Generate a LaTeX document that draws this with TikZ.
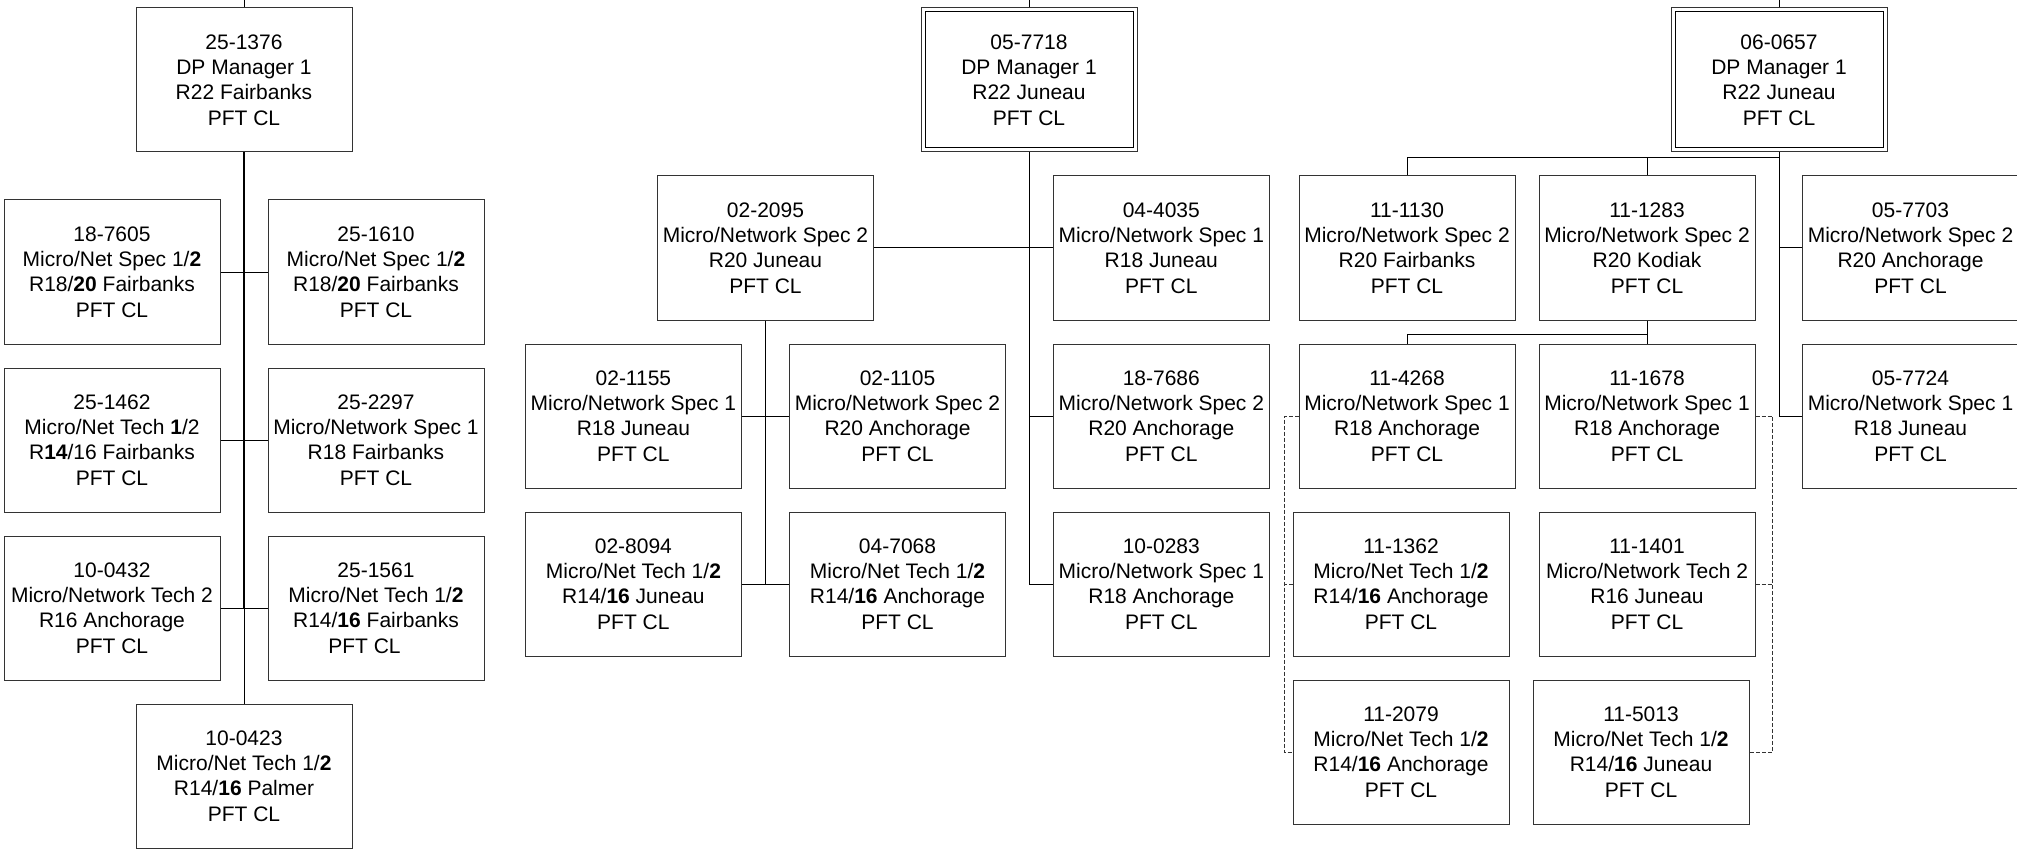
\documentclass[tikz,border=0pt]{standalone}
\usepackage{fontspec}
\setmainfont{Liberation Sans}
\begin{document}
\begin{tikzpicture}[x=0.5pt,y=-0.5pt,
  box/.style={draw=black!80, line width=0.5pt, minimum width=108pt, minimum height=72pt,
    inner sep=0pt, align=center, font=\fontsize{10.5}{12.65}\selectfont},
  conn/.style={draw=black, line width=0.5pt},
  thickconn/.style={draw=black, line width=1pt},
  dashline/.style={draw=black!80, line width=0.5pt, dash pattern=on 2pt off 1pt},
  innerframe/.style={draw=black, line width=0.5pt}]
\useasboundingbox (0,0) rectangle (2017,850);

% ---------------- left group ----------------
\node[box] (a0) at (244,80) {25-1376\\DP Manager 1\\R22 Fairbanks\\PFT CL};
\node[box] (a1) at (112,272) {18-7605\\Micro/Net Spec 1/\textbf{2}\\R18/\textbf{20} Fairbanks\\PFT CL};
\node[box] (a2) at (376,272) {25-1610\\Micro/Net Spec 1/\textbf{2}\\R18/\textbf{20} Fairbanks\\PFT CL};
\node[box] (a3) at (112,440) {25-1462\\Micro/Net Tech \textbf{1}/2\\R\textbf{14}/16 Fairbanks\\PFT CL};
\node[box] (a4) at (376,440) {25-2297\\Micro/Network Spec 1\\R18 Fairbanks\\PFT CL};
\node[box] (a5) at (112,608) {10-0432\\Micro/Network Tech 2\\R16 Anchorage\\PFT CL};
\node[box] (a6) at (376,608) {25-1561\\Micro/Net Tech 1/\textbf{2}\\R14/\textbf{16} Fairbanks\\PFT CL\kern11.5pt};
\node[box] (a7) at (244,776) {10-0423\\Micro/Net Tech 1/\textbf{2}\\R14/\textbf{16} Palmer\\PFT CL};

\coordinate (ta) at (244,0);
\draw[conn] (ta) -- (a0.north);
\draw[thickconn] (a0.south) -- (a0.south |- a5.east);
\draw[conn] (a0.south |- a5.east) -- (a7.north);
\draw[conn] (a1.east) -- (a2.west);
\draw[conn] (a3.east) -- (a4.west);
\draw[conn] (a5.east) -- (a6.west);

% ---------------- middle group ----------------
\node[box] (b0) at (1029,80) {05-7718\\DP Manager 1\\R22 Juneau\\PFT CL};
\draw[innerframe] ([xshift=2.25pt,yshift=-2.25pt]b0.north west) rectangle ([xshift=-2.25pt,yshift=2.25pt]b0.south east);
\node[box] (b1) at (765.5,248) {02-2095\\Micro/Network Spec 2\\R20 Juneau\\PFT CL};
\node[box] (b2) at (1161.3,248) {04-4035\\Micro/Network Spec 1\\R18 Juneau\\PFT CL};
\node[box] (b3) at (633.4,416) {02-1155\\Micro/Network Spec 1\\R18 Juneau\\PFT CL};
\node[box] (b4) at (897.5,416) {02-1105\\Micro/Network Spec 2\\R20 Anchorage\\PFT CL};
\node[box] (b5) at (1161.3,416) {18-7686\\Micro/Network Spec 2\\R20 Anchorage\\PFT CL};
\node[box] (b6) at (633.4,584) {02-8094\\Micro/Net Tech 1/\textbf{2}\\R14/\textbf{16} Juneau\\PFT CL};
\node[box] (b7) at (897.5,584) {04-7068\\Micro/Net Tech 1/\textbf{2}\\R14/\textbf{16} Anchorage\\PFT CL};
\node[box] (b8) at (1161.3,584) {10-0283\\Micro/Network Spec 1\\R18 Anchorage\\PFT CL};

\coordinate (tb) at (1029,0);
\draw[conn] (tb) -- (b0.north);
\draw[conn] (b0.south) -- (b0.south |- b8.west) -- (b8.west);
\draw[conn] (b0.south |- b5.west) -- (b5.west);
\draw[conn] (b1.east) -- (b2.west);
\draw[conn] (b1.south) -- (b1.south |- b6.east);
\draw[conn] (b3.east) -- (b4.west);
\draw[conn] (b6.east) -- (b7.west);

% ---------------- right group ----------------
\node[box] (c0) at (1779,80) {06-0657\\DP Manager 1\\R22 Juneau\\PFT CL};
\draw[innerframe] ([xshift=2.25pt,yshift=-2.25pt]c0.north west) rectangle ([xshift=-2.25pt,yshift=2.25pt]c0.south east);
\node[box] (c1) at (1407,248) {11-1130\\Micro/Network Spec 2\\R20 Fairbanks\\PFT CL};
\node[box] (c2) at (1647,248) {11-1283\\Micro/Network Spec 2\\R20 Kodiak\\PFT CL};
\node[box] (c3) at (1910.5,248) {05-7703\\Micro/Network Spec 2\\R20 Anchorage\\PFT CL};
\node[box] (c4) at (1407,416) {11-4268\\Micro/Network Spec 1\\R18 Anchorage\\PFT CL};
\node[box] (c5) at (1647,416) {11-1678\\Micro/Network Spec 1\\R18 Anchorage\\PFT CL};
\node[box] (c6) at (1910.5,416) {05-7724\\Micro/Network Spec 1\\R18 Juneau\\PFT CL};
\node[box] (c7) at (1401,584) {11-1362\\Micro/Net Tech 1/\textbf{2}\\R14/\textbf{16} Anchorage\\PFT CL};
\node[box] (c8) at (1647,584) {11-1401\\Micro/Network Tech 2\\R16 Juneau\\PFT CL};
\node[box] (c9) at (1401,752) {11-2079\\Micro/Net Tech 1/\textbf{2}\\R14/\textbf{16} Anchorage\\PFT CL};
\node[box] (c10) at (1641,752) {11-5013\\Micro/Net Tech 1/\textbf{2}\\R14/\textbf{16} Juneau\\PFT CL};

\coordinate (tc) at (1779,0);
\coordinate (busc) at (1779,158);
\coordinate (busd) at (1647,334.5);
\draw[conn] (tc) -- (c0.north);
\draw[conn] (c0.south) -- (c0.south |- c6.west) -- (c6.west);
\draw[conn] (c0.south |- c3.west) -- (c3.west);
\draw[conn] (c1.north) |- (busc);
\draw[conn] (c2.north) -- (c2.north |- busc);
\draw[conn] (c2.south) -- (c5.north);
\draw[conn] (c4.north) |- (busd);

\coordinate (dl) at (1284,584);
\coordinate (dr) at (1772.7,584);
\draw[dashline] (c4.west) -| (dl) |- (c9.west);
\draw[dashline] (c7.west) -- (dl);
\draw[dashline] (c5.east) -| (dr) |- (c10.east);
\draw[dashline] (c8.east) -- (dr);
\end{tikzpicture}
\end{document}
